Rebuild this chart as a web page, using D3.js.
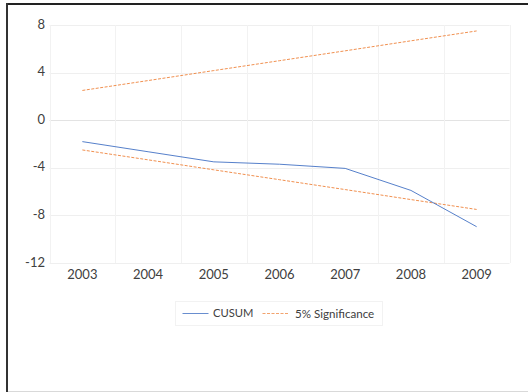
<!DOCTYPE html>
<html>
<head>
<meta charset="utf-8">
<script src="https://cdn.jsdelivr.net/npm/d3@7/dist/d3.min.js"></script>
<style>
html,body{margin:0;padding:0;background:#fff;}
svg{display:block;}
text{font-family:Lato,"Open Sans",sans-serif;fill:#404040;}
</style>
</head>
<body>
<svg id="c" width="528" height="392"></svg>
<script>
const years = ["2003","2004","2005","2006","2007","2008","2009"];
const cusum = [-1.8, -2.65, -3.5, -3.7, -4.05, -5.9, -8.95];
const upper = [2.5, 3.33, 4.17, 5.0, 5.83, 6.67, 7.5];
const lower = [-2.5, -3.33, -4.17, -5.0, -5.83, -6.67, -7.5];
const yTicks = [8, 4, 0, -4, -8, -12];
const seriesNames = ["CUSUM", "5% Significance"];

(function(){
const svg = d3.select("#c");
// frame
svg.append("rect").attr("x",0).attr("y",0).attr("width",528).attr("height",392).attr("fill","#fff");
svg.append("line").attr("x1",6).attr("x2",528).attr("y1",391.5).attr("y2",391.5).attr("stroke","#d9d9d9").attr("stroke-width",1);
svg.append("line").attr("x1",6).attr("x2",528).attr("y1",4).attr("y2",4).attr("stroke","#222").attr("stroke-width",2);
svg.append("line").attr("x1",7).attr("x2",7).attr("y1",3).attr("y2",392).attr("stroke","#333").attr("stroke-width",2);

const pl = 49.5, pr = 509.5, pt = 25, pb = 263;
const x = d3.scaleBand().domain(years).range([pl, pr]);
const y = d3.scaleLinear().domain([-12, 8]).range([pb, pt]);

// horizontal gridlines
svg.append("g").selectAll("line").data(yTicks).join("line")
  .attr("x1", pl).attr("x2", pr)
  .attr("y1", d => Math.round(y(d)) + 0.5).attr("y2", d => Math.round(y(d)) + 0.5)
  .attr("stroke", d => d === 0 ? "#e3e3e3" : "#efefef").attr("stroke-width", 1);
// vertical gridlines at band edges
const edges = years.map(d => x(d)).concat([pr]);
svg.append("g").selectAll("line").data(edges).join("line")
  .attr("x1", d => Math.round(d) + 0.5).attr("x2", d => Math.round(d) + 0.5)
  .attr("y1", pt).attr("y2", pb)
  .attr("stroke", "#f2f2f2").attr("stroke-width", 1);

// y axis labels
const ya = d3.axisLeft(y).tickValues(yTicks).tickSize(0).tickPadding(0).tickFormat(d => String(d));
const yg = svg.append("g").attr("transform", "translate(45,0)").call(ya);
yg.select(".domain").remove();
yg.selectAll("text").style("font-size","13px").attr("dy","0.23em").style("fill","#404040").style("font-family","Lato");

// x axis labels
const xa = d3.axisBottom(x).tickSize(0).tickPadding(0);
const xg = svg.append("g").attr("transform", "translate(0,268)").call(xa);
xg.select(".domain").remove();
xg.selectAll("text").style("font-size","13px").attr("dy","0.87em").style("fill","#404040").style("font-family","Lato");

const cx = d => x(d) + x.bandwidth()/2;
const line = d3.line().x((d,i) => cx(years[i])).y(d => y(d));

svg.append("path").datum(upper).attr("d", line).attr("fill","none")
  .attr("stroke","#ED7D31").attr("stroke-width",1).attr("stroke-dasharray","3,1.5").attr("opacity",0.85);
svg.append("path").datum(lower).attr("d", line).attr("fill","none")
  .attr("stroke","#ED7D31").attr("stroke-width",1).attr("stroke-dasharray","3,1.5").attr("opacity",0.85);
svg.append("path").datum(cusum).attr("d", line).attr("fill","none")
  .attr("stroke","#4472C4").attr("stroke-width",1).attr("opacity",0.9);

// legend
const lg = svg.append("g");
lg.append("rect").attr("x",175.5).attr("y",301.5).attr("width",207).attr("height",24)
  .attr("fill","#fff").attr("stroke","#f2f2f2");
lg.append("line").attr("x1",182.5).attr("x2",208.5).attr("y1",313.5).attr("y2",313.5)
  .attr("stroke","#4472C4").attr("stroke-width",1).attr("opacity",0.8);
lg.append("text").attr("x",213).attr("y",313.5).attr("dy","0.35em").style("font-size","11.2px").text(seriesNames[0]);
lg.append("line").attr("x1",262.5).attr("x2",288.5).attr("y1",313.5).attr("y2",313.5)
  .attr("stroke","#ED7D31").attr("stroke-width",1).attr("stroke-dasharray","3,1.5").attr("opacity",0.7);
lg.append("text").attr("x",295).attr("y",313.5).attr("dy","0.35em").style("font-size","11.6px").text(seriesNames[1]);
})();
</script>
</body>
</html>
